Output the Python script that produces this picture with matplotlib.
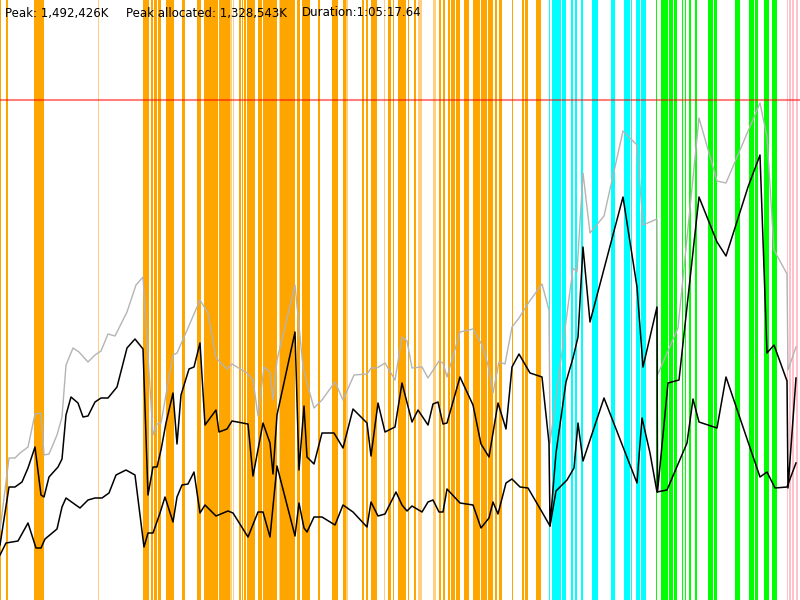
import numpy as np
import matplotlib
matplotlib.use("Agg")
import matplotlib.pyplot as plt

# time axis: 0..800 ticks over the whole run, memory: 500 units == peak (1,492,426K)
peak_text = "Peak: 1,492,426K"
alloc_text = "Peak allocated: 1,328,543K"
dur_text = "Duration:1:05:17.64"
peak_level = 500

# committed memory (grey)
t_committed = [0, 9, 15, 20, 28, 35, 41, 44, 49, 57, 62, 66, 73, 79, 88, 95, 101, 108, 115, 127,
               136, 143, 153, 157, 161, 173, 177, 188, 200, 208, 216, 227, 232, 247, 253, 258, 264,
               270, 273, 277, 295, 303, 307, 314, 322, 335, 343, 354, 367, 371, 377, 385, 395, 402,
               407, 412, 422, 428, 439, 443, 447, 460, 473, 482, 488, 493, 499, 505, 512, 519, 529,
               542, 549, 550, 573, 577, 583, 590, 604, 623, 637, 643, 657, 657.5, 678, 699, 717, 726,
               760, 767, 774, 787, 788, 796]
committed = [70, 142, 142, 147, 153, 186, 187, 145, 146, 165, 183, 235, 252, 248, 238, 245, 249, 266,
             264, 288, 315, 323, 165, 176, 177, 245, 247, 272, 300, 287, 242, 231, 236, 227, 220, 184,
             233, 228, 200, 240, 315, 233, 217, 192, 200, 218, 200, 225, 226, 232, 232, 237, 220, 263,
             259, 232, 233, 222, 239, 237, 223, 268, 271, 255, 235, 207, 238, 236, 273, 282, 298,
             316, 290, 157, 332, 328, 427, 367, 384, 469, 455, 375, 381, 225, 272, 482, 419, 417,
             497, 463, 350, 326, 230, 253]

# allocated memory (black, upper)
t_allocated = [0, 9, 15, 22, 28, 35, 41, 44, 49, 58, 62, 66, 71, 78, 83, 88, 95, 101, 108, 117,
               127, 135, 143, 148, 153, 157, 161, 166, 173, 177, 181, 189, 194, 200, 205, 216, 219,
               227, 232, 248, 253, 263, 270, 273, 277, 295, 299, 304, 307, 314, 322, 334, 343, 353,
               367, 371, 378, 385, 395, 402, 412, 418, 428, 433, 438, 443, 447, 460, 473, 481, 489,
               498, 506, 512, 519, 530, 542, 549, 550, 556, 566, 573, 578, 583, 590, 623, 637, 643,
               657, 657.5, 668, 679, 699, 717, 726, 748, 760, 767, 774, 787, 788, 796]
allocated = [55, 113, 113, 118, 132, 153, 105, 103, 123, 133, 141, 185, 203, 197, 183, 184, 198, 202,
             202, 213, 252, 261, 251, 105, 133, 133, 150, 177, 207, 156, 205, 231, 233, 257, 175, 190,
             168, 171, 179, 176, 124, 177, 157, 126, 185, 268, 130, 194, 143, 136, 167, 167, 152, 191,
             177, 144, 197, 168, 173, 217, 178, 190, 175, 196, 198, 176, 177, 223, 195, 156, 143,
             197, 171, 233, 246, 227, 223, 157, 74, 147, 218, 242, 263, 353, 278, 403, 313, 233,
             293, 108, 217, 220, 403, 358, 344, 413, 445, 247, 255, 219, 112, 222]

# live memory after collection (black, lower)
t_live = [0, 6, 18, 28, 36, 41, 45, 57, 62, 66, 80, 88, 95, 102, 109, 116, 126, 135, 144, 148, 153,
          160, 165, 173, 177, 182, 188, 194, 200, 205, 216, 228, 233, 248, 258, 263, 270, 277, 295,
          299, 304, 307, 314, 322, 335, 343, 353, 367, 371, 378, 385, 396, 402, 407, 412, 422, 428,
          433, 439, 443, 447, 460, 473, 481, 489, 493, 498, 506, 512, 520, 528, 542, 550, 556, 567,
          574, 578, 583, 604, 637, 642, 650, 657, 667, 687, 693, 699, 717, 726, 760, 767, 775, 787,
          796]
live = [45, 57, 59, 77, 52, 52, 61, 71, 93, 102, 92, 100, 102, 102, 107, 125, 130, 125, 53, 67, 67,
        87, 103, 78, 103, 115, 116, 128, 87, 95, 84, 89, 87, 63, 88, 88, 63, 134, 64, 97, 72, 68, 83,
        83, 75, 95, 88, 73, 98, 84, 86, 108, 95, 89, 94, 88, 98, 100, 88, 88, 111, 97, 95, 72, 82, 98,
        86, 117, 121, 113, 112, 88, 74, 109, 120, 132, 177, 139, 202, 117, 182, 147, 108, 110, 157,
        201, 178, 172, 223, 123, 128, 112, 113, 137]

# collector activity spans
orange_spans = [(0, 1), (6, 7.7), (34, 44), (142.7, 146.7), (147.3, 149.3), (150.7, 152.7),
                (154, 157.3), (158, 160.7), (166, 174), (181.7, 185), (196.7, 201), (204, 218.3),
                (219.3, 226.7), (227.3, 229.5), (239, 241), (242, 243.3), (244.3, 246),
                (247.3, 255), (258.3, 262.3), (263.3, 276.7), (280, 295), (296.7, 300), (301.7, 310),
                (318.3, 320), (332.3, 338.3), (343.3, 346), (362, 364), (366, 368.3), (371, 376.7),
                (388.3, 390.7), (392.7, 394), (398.3, 406), (408.3, 409.3), (414, 416),
                (439.3, 441), (442.7, 445), (448.3, 450), (451, 455), (456, 460), (464.3, 469),
                (472.7, 480), (480.7, 486.7), (488.3, 493.3), (495, 497.3), (498.7, 501.7),
                (511.7, 513.3), (522.3, 524), (525.3, 528.3), (536, 540.7)]
light_orange_spans = [(97.7, 99.3), (229.5, 231.7), (232.7, 234.3), (278.7, 280), (346, 348.3),
                      (384, 385.3), (418.3, 421.7), (432.7, 435.7)]
cyan_spans = [(548.7, 550), (551.7, 556.7), (557.3, 560.7), (561.7, 565.7), (570.7, 573.3),
              (574.7, 577.3), (580.7, 582.7), (591.7, 598.3), (611, 615.3), (624.2, 630),
              (631, 632), (635.8, 639.5), (641, 645.5)]
lime_spans = [(655.5, 656.7), (660.5, 667.5), (668.5, 673), (674, 676.7), (681.7, 682.7),
              (684.5, 686), (688.5, 690.5), (694.5, 696.5), (708.3, 713.3), (714.3, 716.7),
              (735, 739.7), (749.2, 753.5), (755, 758), (764.3, 768.7), (771.7, 776.7)]
pink_spans = [(786.5, 788), (789.3, 790.7), (792, 793.5), (795.5, 797.5)]

fig = plt.figure(figsize=(8, 6), dpi=100)
ax = fig.add_axes([0, 0, 1, 1])

for spans, col in [(orange_spans, "#FFA500"), (light_orange_spans, "#FFD080"),
                   (cyan_spans, "#00FFFF"), (lime_spans, "#00FF00"), (pink_spans, "#FFC0CB")]:
    for a, b in spans:
        ax.axvspan(a, b, color=col, lw=0, zorder=1)

ax.axhline(peak_level, color="red", alpha=0.5, lw=1.5, zorder=2)

ax.plot(t_committed, committed, color="#B4B4B4", lw=1.0, zorder=3)
ax.plot(t_allocated, allocated, color="black", lw=1.1, zorder=4)
ax.plot(t_live, live, color="black", lw=1.1, zorder=4)

ax.text(5, 587, peak_text, fontsize=8.5, va="center", ha="left", zorder=5)
ax.text(126, 587, alloc_text, fontsize=8.5, va="center", ha="left", zorder=5)
ax.text(302, 587, dur_text, fontsize=8.5, va="center", ha="left", zorder=5)

ax.set_xlim(0, 800)
ax.set_ylim(0, 600)
ax.axis("off")

fig.savefig("out.png", dpi=100)
